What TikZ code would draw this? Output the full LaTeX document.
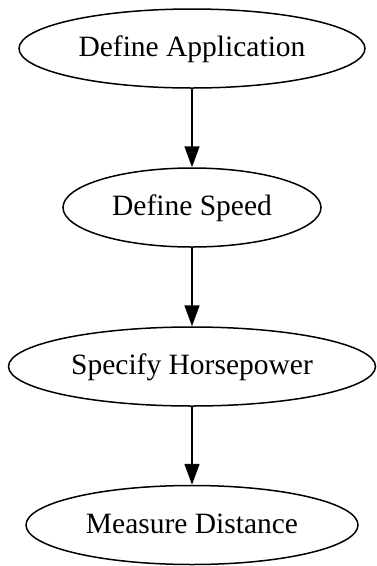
\documentclass[tikz,border=0pt]{standalone}
\usepackage{fontspec}
\setmainfont{Liberation Serif}
\usetikzlibrary{shapes.geometric,arrows.meta}
\begin{document}
\begin{tikzpicture}[x=1pt,y=-1pt,
  stage/.style={ellipse, draw, line width=1.5pt, inner sep=0pt,
    minimum height=79pt, text height=16pt, text depth=0pt,
    font=\fontsize{29.5}{35}\selectfont},
  flow/.style={-{Triangle[length=21pt,width=15pt]}, line width=1.6pt}]
\useasboundingbox (0,0) rectangle (377,566);
\node[stage, minimum width=346pt] (app)   at (192,48.5)  {Define Application};
\node[stage, minimum width=258pt] (speed) at (192,207.5) {Define Speed};
\node[stage, minimum width=367pt] (hp)    at (192,366.5) {Specify Horsepower};
\node[stage, minimum width=332pt] (dist)  at (192,525)   {Measure Distance};
\draw[flow] (app) -- (speed);
\draw[flow] (speed) -- (hp);
\draw[flow] (hp) -- (dist);
\end{tikzpicture}
\end{document}
